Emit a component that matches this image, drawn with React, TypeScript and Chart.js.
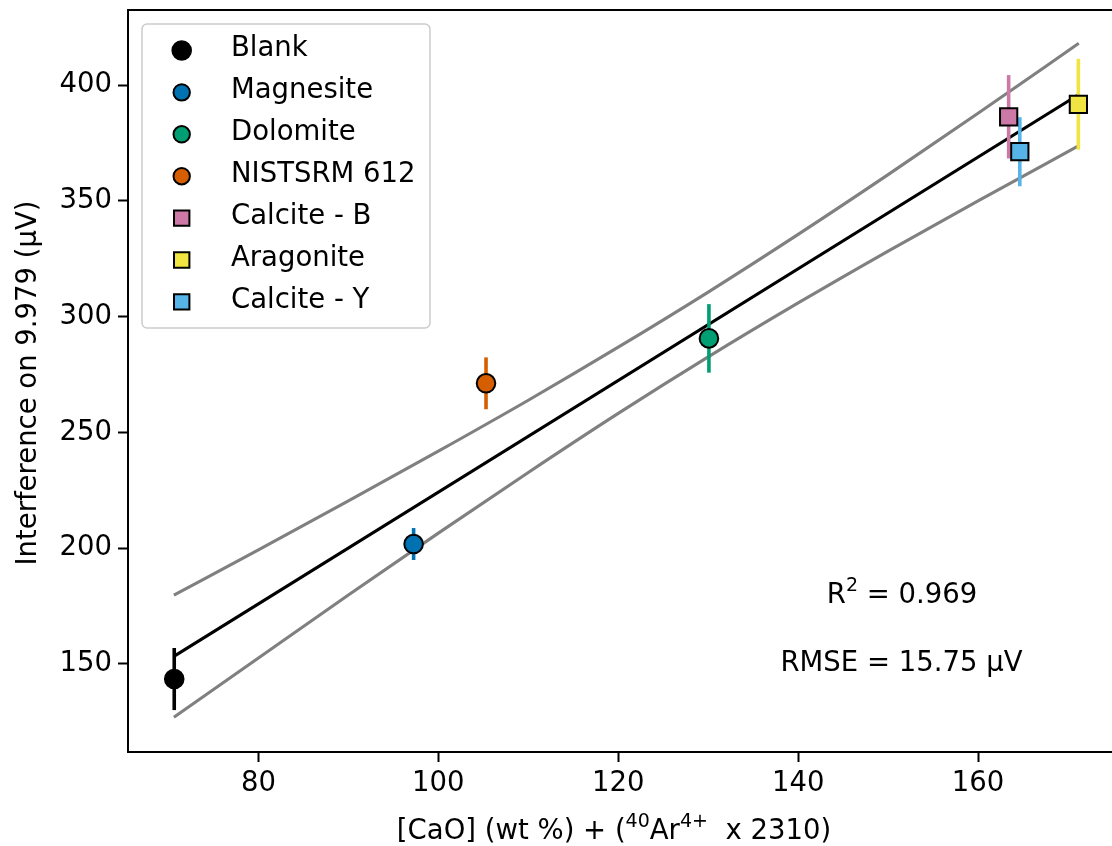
import React, { useEffect, useRef } from 'react';
import { Chart, registerables } from 'chart.js';

Chart.register(...registerables);

// ---------- data ----------
const sampleNames = ['Blank', 'Magnesite', 'Dolomite', 'NISTSRM 612', 'Calcite - B', 'Aragonite', 'Calcite - Y'];
const sampleX = [70.64, 97.25, 130.08, 105.3, 163.4, 171.15, 164.64];
const sampleY = [143.5, 201.8, 290.6, 271.2, 386.3, 391.7, 371.2];
const sampleErr = [13.4, 6.9, 14.8, 11.2, 18.0, 19.6, 14.9];
const sampleColors = ['#000000', '#0072B2', '#009E73', '#D55E00', '#CC79A7', '#F0E442', '#56B4E9'];
const sampleShapes = ['circle', 'circle', 'circle', 'circle', 'rect', 'rect', 'rect'];

const fitX = [70.6, 171.2];
const fitY = [153.3, 395.9];

const bandX = [70.6, 80, 90, 100, 110, 120, 130, 140, 150, 160, 171.2];
const upperY = [179.7, 199.3, 220.4, 241.9, 263.9, 286.8, 310.6, 335.5, 361.3, 387.8, 418.0];
const lowerY = [127.0, 152.6, 179.8, 206.5, 232.7, 258.2, 282.6, 305.9, 328.3, 350.0, 373.8];

const xTicks = [80, 100, 120, 140, 160];
const yTicks = [150, 200, 250, 300, 350, 400];
const xRange = [65.5, 176.0];
const yRange = [112.0, 432.4];

const yTitle = 'Interference on 9.979 (µV)';
const xTitleParts: { t: string; sup: boolean }[] = [
  { t: '[CaO] (wt %) + (', sup: false },
  { t: '40', sup: true },
  { t: 'Ar', sup: false },
  { t: '4+', sup: true },
  { t: '  x 2310)', sup: false },
];
const r2Value = '0.969';
const rmseValue = '15.75';

// ---------- style ----------
const FAMILY = '"DejaVu Sans", "Liberation Sans", sans-serif';
const FS = 27.5;
const font = (s: number) => `${s}px ${FAMILY}`;

function drawParts(ctx: CanvasRenderingContext2D, parts: { t: string; sup: boolean }[], cx: number, baseline: number) {
  const supSize = Math.round(FS * 0.7);
  let total = 0;
  const widths = parts.map((p) => {
    ctx.font = font(p.sup ? supSize : FS);
    const w = ctx.measureText(p.t).width;
    total += w;
    return w;
  });
  let x = cx - total / 2;
  ctx.textAlign = 'left';
  ctx.textBaseline = 'alphabetic';
  parts.forEach((p, i) => {
    ctx.font = font(p.sup ? supSize : FS);
    ctx.fillText(p.t, x, p.sup ? baseline - FS * 0.42 : baseline);
    x += widths[i];
  });
}

const overlayPlugin = {
  id: 'overlay',
  afterDraw(chart: any) {
    const ctx: CanvasRenderingContext2D = chart.ctx;
    const a = chart.chartArea;
    ctx.save();
    // top and right spines
    ctx.strokeStyle = '#000';
    ctx.lineWidth = 2;
    ctx.beginPath();
    ctx.moveTo(a.left - 1, a.top);
    ctx.lineTo(a.right, a.top);
    ctx.lineTo(a.right, a.bottom);
    ctx.stroke();

    ctx.fillStyle = '#000';
    // x title
    drawParts(ctx, xTitleParts, 614, 839);
    // y title
    ctx.save();
    ctx.translate(36, 383);
    ctx.rotate(-Math.PI / 2);
    ctx.font = font(FS);
    ctx.textAlign = 'center';
    ctx.textBaseline = 'alphabetic';
    ctx.fillText(yTitle, 0, 0);
    ctx.restore();

    // annotations
    drawParts(ctx, [{ t: 'R', sup: false }, { t: '2', sup: true }, { t: ' = ' + r2Value, sup: false }], 902, 603);
    drawParts(ctx, [{ t: 'RMSE = ' + rmseValue + ' µV', sup: false }], 901.5, 671);

    // legend
    const lx = 142, ly = 24, lw = 288, lh = 304, rr = 5;
    ctx.beginPath();
    ctx.moveTo(lx + rr, ly);
    ctx.lineTo(lx + lw - rr, ly);
    ctx.arcTo(lx + lw, ly, lx + lw, ly + rr, rr);
    ctx.lineTo(lx + lw, ly + lh - rr);
    ctx.arcTo(lx + lw, ly + lh, lx + lw - rr, ly + lh, rr);
    ctx.lineTo(lx + rr, ly + lh);
    ctx.arcTo(lx, ly + lh, lx, ly + lh - rr, rr);
    ctx.lineTo(lx, ly + rr);
    ctx.arcTo(lx, ly, lx + rr, ly, rr);
    ctx.closePath();
    ctx.fillStyle = 'rgba(255,255,255,0.8)';
    ctx.fill();
    ctx.strokeStyle = '#cccccc';
    ctx.lineWidth = 1.5;
    ctx.stroke();

    sampleNames.forEach((name, i) => {
      const my = 50.5 + i * 41.9;
      const mx = 181.7;
      ctx.fillStyle = sampleColors[i];
      ctx.strokeStyle = '#000';
      ctx.lineWidth = 2;
      ctx.beginPath();
      if (sampleShapes[i] === 'circle') {
        ctx.arc(mx, my, i === 0 ? 9.3 : 8.2, 0, Math.PI * 2);
      } else {
        ctx.rect(mx - 7.7, my - 7.7, 15.4, 15.4);
      }
      ctx.fill();
      ctx.stroke();
      ctx.fillStyle = '#000';
      ctx.font = font(FS);
      ctx.textAlign = 'left';
      ctx.textBaseline = 'alphabetic';
      ctx.fillText(name, 231, my + 5.6);
    });
    ctx.restore();
  },
};

export default function App() {
  const ref = useRef<HTMLCanvasElement | null>(null);

  useEffect(() => {
    if (!ref.current) return;
    const datasets: any[] = [];

    sampleNames.forEach((name, i) => {
      datasets.push({
        label: name,
        data: [{ x: sampleX[i], y: sampleY[i] }],
        pointStyle: sampleShapes[i],
        pointRadius: sampleShapes[i] === 'circle' ? 9.3 : 12.2,
        pointBackgroundColor: sampleColors[i],
        pointBorderColor: '#000',
        pointBorderWidth: 2,
        showLine: false,
        order: 0,
      });
    });
    sampleNames.forEach((name, i) => {
      datasets.push({
        label: name + ' err',
        data: [
          { x: sampleX[i], y: sampleY[i] - sampleErr[i] },
          { x: sampleX[i], y: sampleY[i] + sampleErr[i] },
        ],
        showLine: true,
        borderColor: sampleColors[i],
        borderWidth: 3.6,
        borderCapStyle: 'butt',
        pointRadius: 0,
        order: 1,
      });
    });
    datasets.push({
      label: 'fit',
      data: fitX.map((x, i) => ({ x, y: fitY[i] })),
      showLine: true,
      borderColor: '#000',
      borderWidth: 3.1,
      pointRadius: 0,
      order: 2,
    });
    datasets.push({
      label: 'upper',
      data: bandX.map((x, i) => ({ x, y: upperY[i] })),
      showLine: true,
      borderColor: '#808080',
      borderWidth: 3.1,
      pointRadius: 0,
      cubicInterpolationMode: 'monotone',
      order: 3,
    });
    datasets.push({
      label: 'lower',
      data: bandX.map((x, i) => ({ x, y: lowerY[i] })),
      showLine: true,
      borderColor: '#808080',
      borderWidth: 3.1,
      pointRadius: 0,
      cubicInterpolationMode: 'monotone',
      order: 3,
    });

    const tickFont = { family: FAMILY, size: FS };
    const zeroPad = (s: any) => {
      s.paddingTop = 0;
      s.paddingBottom = 0;
      s.paddingLeft = 0;
      s.paddingRight = 0;
    };
    const chart = new Chart(ref.current, {
      type: 'scatter',
      data: { datasets },
      options: {
        responsive: false,
        animation: false,
        events: [],
        layout: { autoPadding: false, padding: { top: 10, right: 3, left: 0, bottom: 0 } },
        plugins: { legend: { display: false }, tooltip: { enabled: false } },
        scales: {
          x: {
            type: 'linear',
            min: xRange[0],
            max: xRange[1],
            afterBuildTicks: (s: any) => {
              s.ticks = xTicks.map((v) => ({ value: v }));
            },
            afterFit: (s: any) => {
              s.height = 94;
              zeroPad(s);
            },
            grid: { drawOnChartArea: false, drawTicks: true, tickLength: 10, tickWidth: 2, tickColor: '#000' },
            border: { display: true, color: '#000', width: 2 },
            ticks: { color: '#000', font: tickFont, padding: 5, maxRotation: 0, autoSkip: false },
          },
          y: {
            type: 'linear',
            min: yRange[0],
            max: yRange[1],
            afterBuildTicks: (s: any) => {
              s.ticks = yTicks.map((v) => ({ value: v }));
            },
            afterFit: (s: any) => {
              s.width = 128;
              zeroPad(s);
            },
            grid: { drawOnChartArea: false, drawTicks: true, tickLength: 10, tickWidth: 2, tickColor: '#000' },
            border: { display: true, color: '#000', width: 2 },
            ticks: { color: '#000', font: tickFont, padding: 6, autoSkip: false },
          },
        },
      },
      plugins: [overlayPlugin],
    } as any);
    return () => chart.destroy();
  }, []);

  return (
    <div style={{ position: 'absolute', left: 0, top: 0, width: 1112, height: 846, overflow: 'hidden', background: '#fff' }}>
      <canvas ref={ref} width={1125} height={846} style={{ display: 'block', width: 1125, height: 846 }} />
    </div>
  );
}
